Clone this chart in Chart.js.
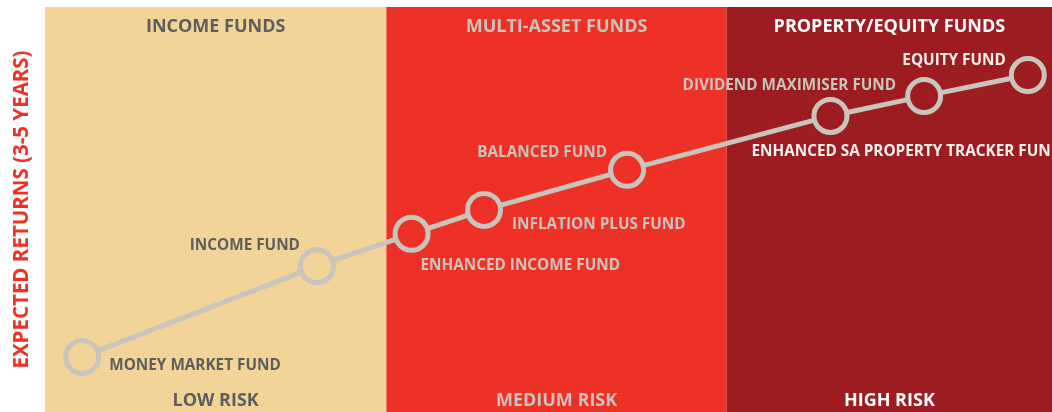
<!DOCTYPE html>
<html lang="en">
<head>
  <meta charset="UTF-8" />
  <title>Fund Risk / Return</title>
  <script src="https://cdn.jsdelivr.net/npm/chart.js"></script>
  <style>
    body {
      margin: 0;
      background: #ffffff;
    }

    .chart-container {
      width: 1052px;
      height: 412px;
    }
  </style>
</head>
<body>

  <div class="chart-container">
    <canvas id="fundChart"></canvas>
  </div>

  <script>
    // funds, ordered by risk
    const funds = [
      'MONEY MARKET FUND',
      'INCOME FUND',
      'ENHANCED INCOME FUND',
      'INFLATION PLUS FUND',
      'BALANCED FUND',
      'ENHANCED SA PROPERTY TRACKER FUND',
      'DIVIDEND MAXIMISER FUND',
      'EQUITY FUND'
    ];
    const riskValues = [3.7, 27.0, 36.4, 43.6, 57.8, 78.0, 87.3, 97.6];
    const returnValues = [13.6, 36.0, 44.0, 49.9, 59.8, 73.1, 78.0, 83.2];

    // risk bands
    const bandTitles = ['INCOME FUNDS', 'MULTI-ASSET FUNDS', 'PROPERTY/EQUITY FUNDS'];
    const bandRisk = ['LOW RISK', 'MEDIUM RISK', 'HIGH RISK'];
    const bandStart = [0, 33.9, 67.7];
    const bandEnd = [33.9, 67.7, 100];

    const bandFill = ['#f2d498', '#ee3126', '#9c1c21'];
    const bandText = ['#5e5e5e', '#c9c4bc', '#ffffff'];
    const labelText = ['#5e5e5e', '#c9c4bc', '#f4f1ec'];

    // label placement relative to each point: [dx, dy, align]
    const labelPlace = [
      [27, 9, 'left'],
      [-17, -21, 'right'],
      [9, 32, 'left'],
      [28, 15, 'left'],
      [-20, -17, 'right'],
      [-79, 36, 'left'],
      [-28, -10, 'right'],
      [-22, -14, 'right']
    ];

    function bandOf(x) {
      for (let i = 0; i < bandStart.length; i++) {
        if (x < bandEnd[i]) return i;
      }
      return bandStart.length - 1;
    }

    const FONT = "'Open Sans', sans-serif";

    const bandsPlugin = {
      id: 'bands',
      beforeDatasetsDraw(chart) {
        const { ctx, chartArea, scales } = chart;
        ctx.save();
        for (let i = 0; i < bandStart.length; i++) {
          const x0 = scales.x.getPixelForValue(bandStart[i]);
          const x1 = scales.x.getPixelForValue(bandEnd[i]);
          ctx.fillStyle = bandFill[i];
          ctx.fillRect(x0, chartArea.top, x1 - x0, chartArea.bottom - chartArea.top);

          const cx = (x0 + x1) / 2;
          ctx.fillStyle = bandText[i];
          ctx.font = 'bold 18px ' + FONT;
          ctx.textAlign = 'center';
          ctx.textBaseline = 'middle';
          ctx.fillText(bandTitles[i], cx, chartArea.top + 20);
          ctx.fillText(bandRisk[i], cx, chartArea.bottom - 11);
        }
        ctx.restore();
      },
      afterDatasetsDraw(chart) {
        const { ctx, scales } = chart;
        ctx.save();
        ctx.font = 'bold 15.3px ' + FONT;
        ctx.textBaseline = 'middle';
        funds.forEach((name, i) => {
          const px = scales.x.getPixelForValue(riskValues[i]);
          const py = scales.y.getPixelForValue(returnValues[i]);
          const p = labelPlace[i];
          const tx = px + p[0];
          ctx.textAlign = p[2];
          // colour follows the band the text starts in
          const startX = p[2] === 'left' ? tx : tx - ctx.measureText(name).width;
          ctx.fillStyle = labelText[bandOf(scales.x.getValueForPixel(startX))];
          ctx.fillText(name, tx, py + p[1]);
        });
        ctx.restore();
      }
    };

    const ctx = document.getElementById('fundChart').getContext('2d');
    new Chart(ctx, {
      type: 'line',
      data: {
        datasets: [{
          label: 'Funds',
          data: riskValues.map((x, i) => ({ x: x, y: returnValues[i] })),
          borderColor: '#c8c5bd',
          borderWidth: 5,
          pointRadius: 16.5,
          pointHoverRadius: 16.5,
          pointBorderWidth: 5,
          pointBorderColor: '#c8c5bd',
          pointBackgroundColor: (c) => bandFill[bandOf(riskValues[c.dataIndex] || 0)],
          tension: 0,
          clip: false
        }]
      },
      options: {
        responsive: true,
        maintainAspectRatio: false,
        animation: false,
        layout: {
          autoPadding: false,
          padding: { top: 7, left: 0, right: 0, bottom: 0 }
        },
        plugins: {
          legend: { display: false },
          tooltip: { enabled: false }
        },
        scales: {
          x: {
            type: 'linear',
            min: 0,
            max: 100,
            display: false
          },
          y: {
            min: 0,
            max: 100,
            grid: { display: false },
            border: { display: false },
            ticks: { display: false },
            title: {
              display: true,
              text: 'EXPECTED RETURNS (3-5 YEARS)',
              color: '#ee3126',
              font: { family: FONT, size: 20.5, weight: 'bold' },
              padding: { top: 10, bottom: 0 }
            },
            afterFit(scale) {
              scale.width = 45;
            }
          }
        }
      },
      plugins: [bandsPlugin]
    });
  </script>
</body>
</html>
